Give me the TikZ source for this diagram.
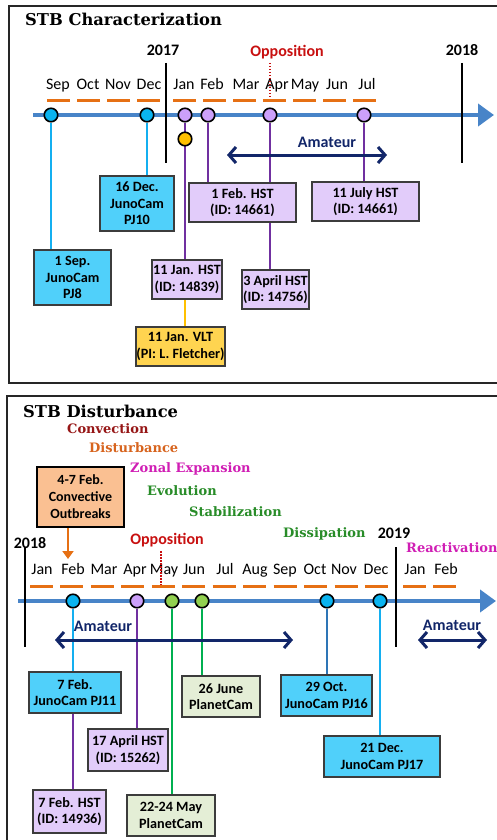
\documentclass[tikz,border=0pt]{standalone}
\usepackage{fontspec}
\setmainfont{Carlito}
\newfontfamily\serifhead{DejaVu Serif}
\usetikzlibrary{arrows.meta}
\pgfdeclarelayer{bg}
\pgfsetlayers{bg,main}
\definecolor{axisblue}{RGB}{72,132,200}
\definecolor{dorange}{RGB}{230,112,20}
\definecolor{mcyan}{RGB}{10,180,240}
\definecolor{bcyan}{RGB}{80,208,250}
\definecolor{lcyan}{RGB}{20,175,240}
\definecolor{mpurple}{RGB}{204,160,250}
\definecolor{bpurple}{RGB}{226,204,250}
\definecolor{lpurple}{RGB}{112,48,160}
\definecolor{myellow}{RGB}{255,192,0}
\definecolor{byellow}{RGB}{255,212,80}
\definecolor{mgreen}{RGB}{146,208,80}
\definecolor{bgreen}{RGB}{228,238,214}
\definecolor{lgreen}{RGB}{0,176,80}
\definecolor{lblue}{RGB}{46,117,182}
\definecolor{navy}{RGB}{18,38,105}
\definecolor{oppred}{RGB}{200,16,16}
\definecolor{convred}{RGB}{150,22,22}
\definecolor{distor}{RGB}{215,100,30}
\definecolor{magent}{RGB}{208,30,180}
\definecolor{phgreen}{RGB}{40,140,40}
\definecolor{boxline}{RGB}{60,60,60}
\definecolor{outfill}{RGB}{250,192,146}
\begin{document}
\begin{tikzpicture}[x=1pt,y=-1pt,
  mk/.style={circle, draw=black, line width=1.6pt, minimum size=13.5pt, inner sep=0pt},
  mkc/.style={mk, fill=mcyan},
  mkp/.style={mk, fill=mpurple},
  mkg/.style={mk, fill=mgreen},
  mky/.style={mk, fill=myellow},
  infobox/.style={draw=boxline, line width=1.3pt, align=center, inner sep=0pt,
     font=\bfseries\fontsize{14.2}{16.5}\selectfont},
  cbox/.style={infobox, fill=bcyan},
  pbox/.style={infobox, fill=bpurple},
  ybox/.style={infobox, fill=byellow},
  gbox/.style={infobox, fill=bgreen},
  mon/.style={font=\fontsize{16}{18}\selectfont, inner sep=0pt, anchor=base},
  yr/.style={font=\bfseries\fontsize{16}{18}\selectfont, inner sep=0pt},
  oppt/.style={font=\bfseries\fontsize{16}{18}\selectfont, text=oppred, inner sep=0pt},
  amt/.style={font=\bfseries\fontsize{16}{18}\selectfont, text=navy, inner sep=0pt},
  phase/.style={anchor=west, inner sep=0pt, font=\serifhead\bfseries\fontsize{13}{15}\selectfont},
  ttl/.style={anchor=west, inner sep=0pt, font=\serifhead\bfseries\fontsize{16.3}{18}\selectfont},
  conn/.style={line width=1.6pt},
  amarrow/.style={navy, line width=3pt, {Straight Barb[length=7pt,width=16pt]}-{Straight Barb[length=7pt,width=16pt]}},
  axisline/.style={axisblue, line width=4.5pt, -{Triangle[length=16pt,width=22pt]}},
  dashline/.style={dorange, line width=3pt, dash pattern=on 23pt off 7pt},
  dashline2/.style={dorange, line width=3pt, dash pattern=on 23pt off 7.45pt},
  oppline/.style={oppred, line width=1.3pt, dash pattern=on 1.5pt off 1.5pt},
  yearline/.style={black, line width=1.5pt},
  framebox/.style={draw=black!85, line width=1.5pt}
]
\useasboundingbox (0,0) rectangle (496,840);

% ================= TOP PANEL =================
\draw[framebox] (9,6) rectangle (506,383);
\node[ttl] (t1) at (25,19) {STB Characterization};

\node[yr] (y2017) at (163,50) {2017};
\node[yr] (y2018) at (462,50) {2018};
\node[oppt] (opp1) at (287,52) {Opposition};

\coordinate (l17a) at (166,63); \coordinate (l17b) at (166,163);
\coordinate (l18a) at (462,63); \coordinate (l18b) at (462,163);
\draw[yearline] (l17a) -- (l17b);
\draw[yearline] (l18a) -- (l18b);

\foreach \m/\x in {Sep/58,Oct/88,Nov/118,Dec/149,Jan/184,Feb/212,Mar/246,Apr/277,May/305,Jun/337,Jul/367}
  \node[mon] (tm\m) at (\x,89.5) {\m};

\coordinate (o1a) at (270,63); \coordinate (o1b) at (270,100);
\draw[oppline] (o1a) -- (o1b);

\coordinate (d1a) at (47,101); \coordinate (d1b) at (161,101);
\coordinate (d1c) at (173,101); \coordinate (d1d) at (378,101);
\draw[dashline] (d1a) -- (d1b);
\draw[dashline] (d1c) -- (d1d);

\coordinate (ax1a) at (33,115); \coordinate (ax1b) at (494,115);

\node[mkc] (mSep) at (51,115) {};
\node[mkc] (mDec) at (147,115) {};
\node[mkp] (mJan) at (185,115) {};
\node[mkp] (mFeb) at (208,115) {};
\node[mkp] (mApr) at (270,115) {};
\node[mkp] (mJul) at (364,115) {};
\node[mky] (mYel) at (185,139) {};

\node[amt] (am1) at (327,142) {Amateur};
\coordinate (am1a) at (227,155); \coordinate (am1b) at (387,155);
\draw[amarrow] (am1a) -- (am1b);

\node[cbox, minimum width=77, minimum height=55] (bSep) at (72.5,277.5) {1 Sep.\\JunoCam\\PJ8};
\node[cbox, minimum width=74, minimum height=55] (bDec) at (137,203.5) {16 Dec.\\JunoCam\\PJ10};
\node[pbox, minimum width=70, minimum height=39] (bJanH) at (187,279.5) {11 Jan. HST\\(ID: 14839)};
\node[ybox, minimum width=89, minimum height=39] (bVLT) at (180.5,346.5) {11 Jan. VLT\\(PI: L. Fletcher)};
\node[pbox, minimum width=107, minimum height=39] (bFeb) at (242.5,202.5) {1 Feb. HST\\(ID: 14661)};
\node[pbox, minimum width=67, minimum height=39] (bApr) at (275.5,289.5) {3 April HST\\(ID: 14756)};
\node[pbox, minimum width=107, minimum height=39] (bJul) at (365.5,201.5) {11 July HST\\(ID: 14661)};

\begin{pgfonlayer}{bg}
\draw[axisline] (ax1a) -- (ax1b);
\draw[conn, lcyan] (mSep) -- (mSep |- bSep.north);
\draw[conn, lcyan] (mDec) -- (mDec |- bDec.north);
\draw[conn, lpurple] (mJan) -- (mJan |- bJanH.north);
\draw[conn, myellow] (mJan |- bJanH.south) -- (mJan |- bVLT.north);
\draw[conn, lpurple] (mFeb) -- (mFeb |- bFeb.north);
\draw[conn, lpurple] (mApr) -- (mApr |- bApr.north);
\draw[conn, lpurple] (mJul) -- (mJul |- bJul.north);
\end{pgfonlayer}

% ================= BOTTOM PANEL =================
\draw[framebox] (7,396) rectangle (506,850);
\node[ttl] (t2) at (23,411) {STB Disturbance};

\node[phase, text=convred] (pConv) at (67,429) {Convection};
\node[phase, text=distor] (pDist) at (89,448) {Disturbance};
\node[phase, text=magent] (pZon) at (130,469) {Zonal Expansion};
\node[phase, text=phgreen] (pEvo) at (147,491) {Evolution};
\node[phase, text=phgreen] (pStab) at (189,512) {Stabilization};
\node[phase, text=phgreen] (pDiss) at (283,534) {Dissipation};
\node[phase, text=magent] (pReac) at (406,548) {Reactivation};

\node[yr] (y2018b) at (30,543) {2018};
\node[yr] (y2019) at (394,533) {2019};
\node[oppt] (opp2) at (167,540) {Opposition};

\node[infobox, fill=outfill, line width=2.4pt, draw=black, minimum width=87, minimum height=60,
  font=\bfseries\fontsize{14}{17}\selectfont] (bOut) at (80.5,497) {4-7 Feb.\\Convective\\Outbreaks};
\coordinate (outTip) at (68,559);
\draw[dorange, line width=2.6pt, -{Triangle[length=8pt,width=11pt]}] ([xshift=-12.5pt]bOut.south) -- (outTip);

\coordinate (l18ba) at (25,547); \coordinate (l18bb) at (25,647);
\coordinate (l19a) at (396,547); \coordinate (l19b) at (396,647);
\draw[yearline] (l18ba) -- (l18bb);
\draw[yearline] (l19a) -- (l19b);

\foreach \m/\x/\n in {Jan/42/1,Feb/73/2,Mar/104/3,Apr/135/4,May/164/5,Jun/194/6,Jul/225/7,Aug/255/8,Sep/285/9,Oct/315/10,Nov/344/11,Dec/376/12,Jan/415/13,Feb/446/14}
  \node[mon] (bm\n) at (\x,574.5) {\m};

\coordinate (o2a) at (161,551); \coordinate (o2b) at (161,586);
\draw[oppline] (o2a) -- (o2b);

\coordinate (d2a) at (30,586); \coordinate (d2b) at (388,586);
\coordinate (d2c) at (403,586); \coordinate (d2d) at (457,586);
\draw[dashline2] (d2a) -- (d2b);
\draw[dashline] (d2c) -- (d2d);

\coordinate (ax2a) at (18,601); \coordinate (ax2b) at (496,601);

\node[mkc] (nFeb) at (73,601) {};
\node[mkp] (nApr) at (137,601) {};
\node[mkg] (nMay) at (172,601) {};
\node[mkg] (nJun) at (202,601) {};
\node[mkc] (nOct) at (327,601) {};
\node[mkc] (nDec) at (380,601) {};

\node[amt] (am2) at (103,626) {Amateur};
\coordinate (am2a) at (55,640); \coordinate (am2b) at (293,640);
\draw[amarrow] (am2a) -- (am2b);
\node[amt] (am3) at (452,625) {Amateur};
\coordinate (am3a) at (418,640); \coordinate (am3b) at (487,640);
\draw[amarrow] (am3a) -- (am3b);

\node[cbox, minimum width=92, minimum height=41] (cFebJ) at (75,692.5) {7 Feb.\\JunoCam PJ11};
\node[pbox, minimum width=73, minimum height=43] (cFebH) at (69.5,811.5) {7 Feb. HST\\(ID: 14936)};
\node[pbox, minimum width=80, minimum height=42] (cApr) at (128,750) {17 April HST\\(ID: 15262)};
\node[gbox, minimum width=88, minimum height=41] (cMay) at (171,815.5) {22-24 May\\PlanetCam};
\node[gbox, minimum width=78, minimum height=41] (cJun) at (221,696.5) {26 June\\PlanetCam};
\node[cbox, minimum width=91, minimum height=41] (cOct) at (326.5,695.5) {29 Oct.\\JunoCam PJ16};
\node[cbox, minimum width=116, minimum height=41] (cDec) at (382,756.5) {21 Dec.\\JunoCam PJ17};

\begin{pgfonlayer}{bg}
\draw[axisline] (ax2a) -- (ax2b);
\draw[conn, lcyan] (nFeb) -- (nFeb |- cFebJ.north);
\draw[conn, lpurple] (nFeb |- cFebJ.south) -- (nFeb |- cFebH.north);
\draw[conn, lpurple] (nApr) -- (nApr |- cApr.north);
\draw[conn, lgreen] (nMay) -- (nMay |- cMay.north);
\draw[conn, lgreen] (nJun) -- (nJun |- cJun.north);
\draw[conn, lblue] (nOct) -- (nOct |- cOct.north);
\draw[conn, lcyan] (nDec) -- (nDec |- cDec.north);
\end{pgfonlayer}
\end{tikzpicture}
\end{document}
